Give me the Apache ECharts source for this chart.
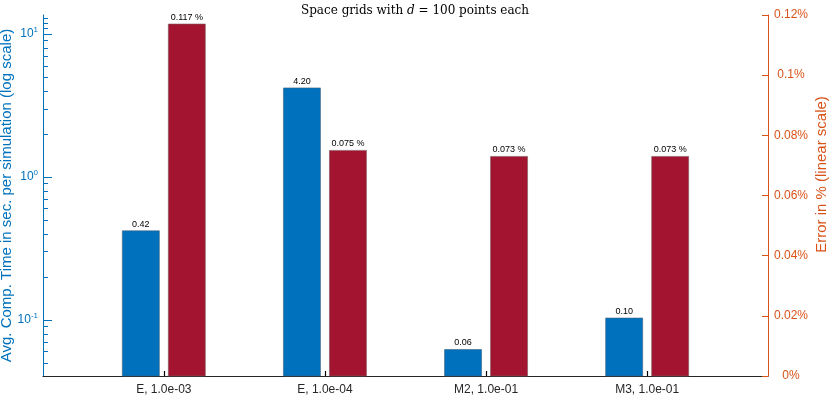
<!DOCTYPE html>
<html>
<head>
<meta charset="utf-8">
<script src="https://cdn.jsdelivr.net/npm/echarts@6/dist/echarts.min.js"></script>
<style>html,body{margin:0;padding:0;background:#fff}#c{width:830px;height:396px}</style>
</head>
<body>
<div id="c"></div>
<script>
const categories = ['E, 1.0e-03', 'E, 1.0e-04', 'M2, 1.0e-01', 'M3, 1.0e-01'];
const timeValues = [0.42, 4.20, 0.062, 0.103];
const errorValues = [0.117, 0.075, 0.073, 0.073];
const leftMajorTicks = [0.1, 1, 10];
const leftMinorTicks = [0.05, 0.06, 0.07, 0.08, 0.09, 0.2, 0.3, 0.4, 0.5, 0.6, 0.7, 0.8, 0.9, 2, 3, 4, 5, 6, 7, 8, 9, 11, 12, 13];
const catPositions = categories.map((c, i) => i + 1);

const BLUE = '#0072BD', RED = '#A2142F', ORANGE = '#D95319', DARK = '#262626';
const FONT = 'Liberation Sans';
const LOG_MIN = 0.0405, LOG_MAX = 13.6;
const BAR_W = 37, BAR_OFF = 23;

function barRenderer(offset, baseValue, fill, stroke, fmt) {
  return function (params, api) {
    const x = api.value(0), v = api.value(1);
    const top = api.coord([x, v]);
    const base = api.coord([x, baseValue]);
    return {
      type: 'rect',
      shape: {x: top[0] + offset - BAR_W / 2, y: top[1], width: BAR_W, height: base[1] - top[1]},
      style: {fill: fill, stroke: stroke, lineWidth: 0.6},
      textContent: {style: {text: fmt(v), fontFamily: FONT, fontSize: 9, fill: '#000'}},
      textConfig: {position: 'top', distance: 2}
    };
  };
}

const chart = echarts.init(document.getElementById('c'), null, {renderer: 'canvas'});
chart.setOption({
  animation: false,
  title: {
    text: 'Space grids with {i|d} = 100 points each',
    left: 'center', top: 0,
    textStyle: {
      fontFamily: 'DejaVu Serif', fontSize: 12, fontWeight: 'normal', color: '#000',
      rich: {i: {fontFamily: 'DejaVu Serif', fontStyle: 'italic', fontSize: 12, color: '#000'}}
    }
  },
  grid: {left: 43, right: 62, top: 15, bottom: 20, containLabel: false, outerBoundsMode: 'none'},
  xAxis: {
    type: 'value', min: 0.25, max: 4.75,
    splitLine: {show: false},
    axisLine: {show: true, onZero: false, lineStyle: {color: DARK, width: 1.2}},
    axisTick: {show: true, inside: true, length: 5, customValues: catPositions, lineStyle: {color: '#000', width: 1.2}},
    axisLabel: {
      customValues: catPositions, margin: 8, fontFamily: FONT, fontSize: 12, color: DARK,
      formatter: v => categories[Math.round(v) - 1] || ''
    }
  },
  yAxis: [
    {
      type: 'log', position: 'left', min: LOG_MIN, max: LOG_MAX,
      name: 'Avg. Comp. Time in sec. per simulation (log scale)',
      nameLocation: 'middle', nameRotate: 90, nameGap: 29, nameMoveOverlap: false,
      nameTextStyle: {fontFamily: FONT, fontSize: 15, color: BLUE},
      splitLine: {show: false},
      axisLine: {show: true, lineStyle: {color: BLUE, width: 1}},
      axisTick: {show: true, inside: true, length: 9, customValues: leftMajorTicks, lineStyle: {color: BLUE}},
      axisLabel: {
        customValues: leftMajorTicks, margin: 5, fontFamily: FONT, fontSize: 12, color: BLUE,
        formatter: v => '10{s|' + Math.round(Math.log10(v)) + '}',
        rich: {s: {fontSize: 8, verticalAlign: 'top', padding: [0, 0, 8, 0], color: BLUE, fontFamily: FONT}}
      }
    },
    {
      type: 'value', position: 'right', min: 0, max: 0.12, interval: 0.02,
      name: 'Error in % (linear scale)',
      nameLocation: 'middle', nameRotate: 90, nameGap: 46, nameMoveOverlap: false,
      nameTextStyle: {fontFamily: FONT, fontSize: 15, color: ORANGE, padding: [0, 0, 0, 42]},
      splitLine: {show: false},
      axisLine: {show: true, lineStyle: {color: ORANGE, width: 1}},
      axisTick: {show: true, inside: true, length: 6, lineStyle: {color: ORANGE}},
      axisLabel: {
        margin: 23, align: 'center', fontFamily: FONT, fontSize: 12, color: ORANGE,
        formatter: v => parseFloat(v.toFixed(2)) + '%'
      }
    },
    {
      type: 'log', position: 'left', min: LOG_MIN, max: LOG_MAX, offset: 0,
      splitLine: {show: false},
      axisLine: {show: false},
      axisTick: {show: true, inside: true, length: 5, customValues: leftMinorTicks, lineStyle: {color: BLUE}},
      axisLabel: {show: false}
    }
  ],
  series: [
    {
      type: 'custom', coordinateSystem: 'cartesian2d', xAxisIndex: 0, yAxisIndex: 0,
      data: catPositions.map((x, i) => [x, timeValues[i]]),
      encode: {x: 0, y: 1},
      renderItem: barRenderer(-BAR_OFF, LOG_MIN, BLUE, '#3b5f7d', v => v.toFixed(2))
    },
    {
      type: 'custom', coordinateSystem: 'cartesian2d', xAxisIndex: 0, yAxisIndex: 1,
      data: catPositions.map((x, i) => [x, errorValues[i]]),
      encode: {x: 0, y: 1},
      renderItem: barRenderer(BAR_OFF, 0, RED, '#7d5a60', v => v.toFixed(3) + ' %')
    }
  ]
});
</script>
</body>
</html>
